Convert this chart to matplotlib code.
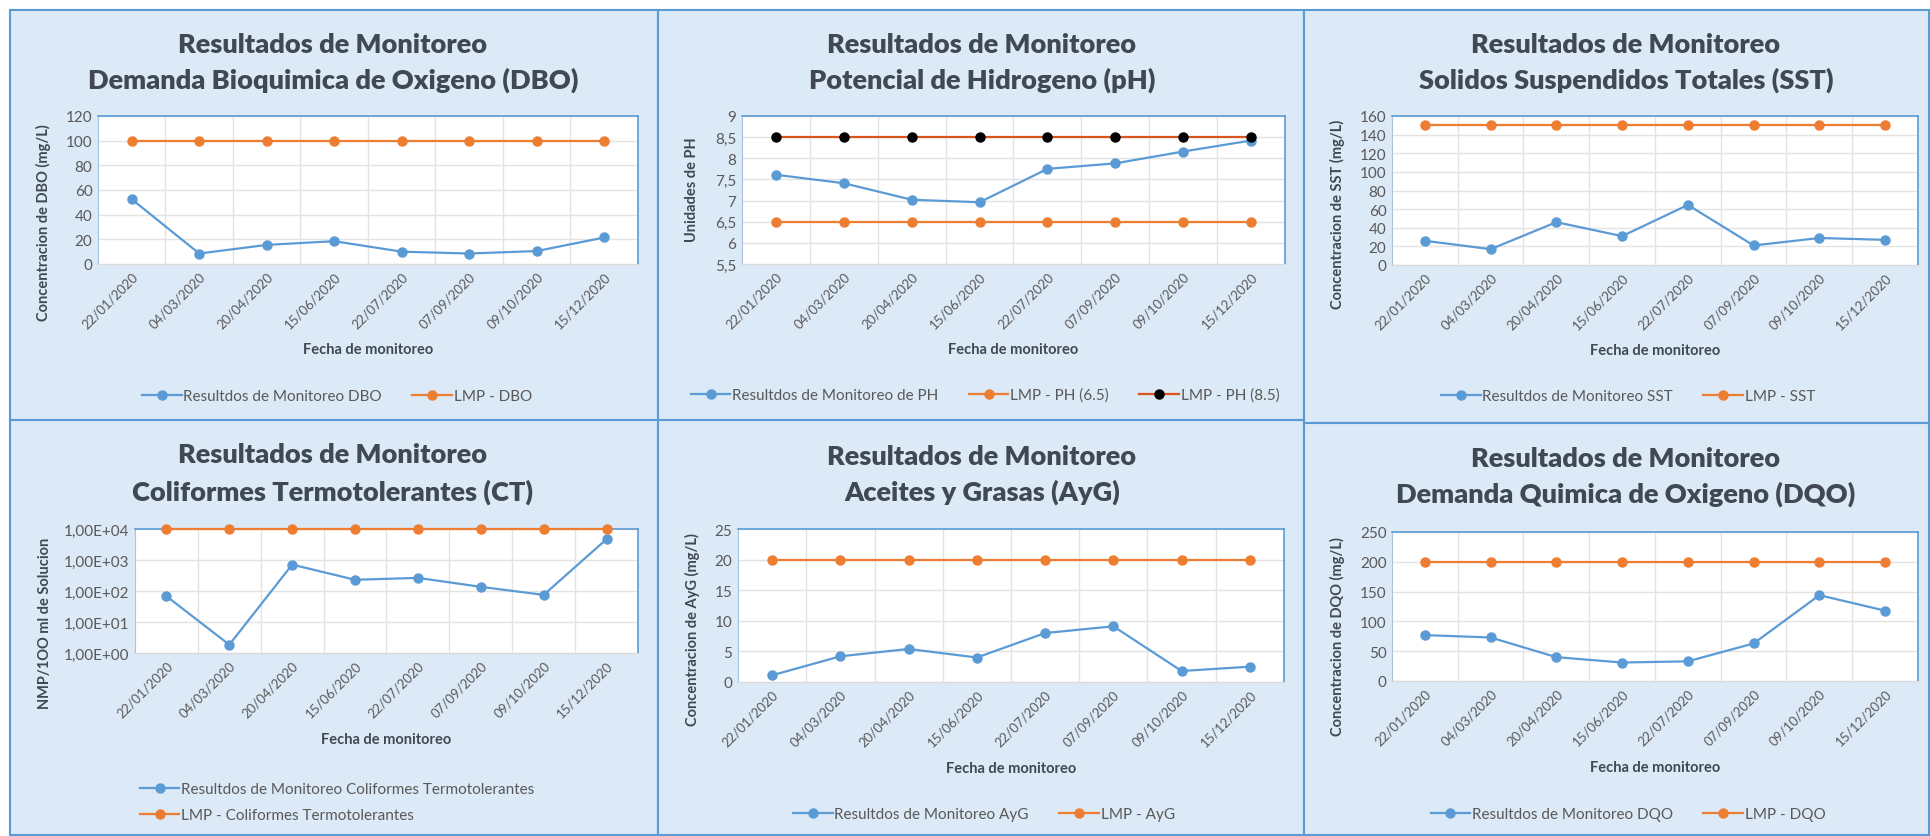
import numpy as np
import matplotlib.pyplot as plt
from matplotlib.patches import Rectangle
from matplotlib.ticker import FuncFormatter, FixedLocator

W, H = 1931, 837
plt.rcParams['font.family'] = ['Lato', 'DejaVu Sans']

# ---------------------------- data -------------------------------
fechas = ["22/01/2020", "04/03/2020", "20/04/2020", "15/06/2020",
          "22/07/2020", "07/09/2020", "09/10/2020", "15/12/2020"]

dbo = [52.5, 8.5, 15.5, 18.5, 10, 8.5, 10.5, 21.5]
lmp_dbo = [100] * 8

ph = [7.61, 7.41, 7.02, 6.96, 7.75, 7.88, 8.16, 8.42]
lmp_ph_min = [6.5] * 8
lmp_ph_max = [8.5] * 8

sst = [26, 17, 46, 31, 64.5, 21, 29, 27]
lmp_sst = [150] * 8

ct = [68, 1.85, 710, 230, 265, 136, 75, 4700]
lmp_ct = [10000] * 8

ayg = [1.1, 4.2, 5.4, 4.0, 8.0, 9.1, 1.8, 2.5]
lmp_ayg = [20] * 8

dqo = [77, 73, 40, 31, 33, 63, 144, 118]
lmp_dqo = [200] * 8

BLUE = '#5B9BD5'
ORANGE = '#ED7D31'
DARKOR = '#D9541E'
TXT = '#3F4854'
TICK = '#595959'
BG = '#DCE9F6'


def fx(x):
    return x / W


def fy(y):
    return 1 - y / H


def make_axes(fig, l, t, r, b):
    ax = fig.add_axes([fx(l), fy(b), fx(r - l), (b - t) / H])
    ax.set_facecolor('white')
    ax.set_xlim(-0.5, 7.5)
    ax.set_xticks(range(8))
    ax.set_xticklabels(fechas, rotation=45, ha='right', rotation_mode='anchor',
                       fontsize=9.5, color=TICK)
    ax.xaxis.set_minor_locator(FixedLocator(np.arange(0.5, 7.5, 1)))
    ax.grid(which='minor', axis='x', color='#E3E3E3', lw=1)
    ax.grid(which='major', axis='y', color='#E3E3E3', lw=1)
    ax.tick_params(which='both', length=0, pad=4)
    ax.tick_params(axis='y', labelsize=11, labelcolor=TICK)
    for s in ['top', 'right']:
        ax.spines[s].set_color(BLUE)
        ax.spines[s].set_linewidth(1.2)
    ax.spines['left'].set_color('#A9C4DE')
    ax.spines['bottom'].set_color('#D9D9D9')
    ax.set_axisbelow(True)
    return ax


def panel(fig, l, t, r, b):
    fig.patches.append(Rectangle((fx(l), fy(b)), fx(r - l), (b - t) / H,
                                 transform=fig.transFigure, facecolor=BG,
                                 edgecolor=BLUE, lw=1.5, zorder=-5))


def titles(fig, cx, y1, y2, l1, l2):
    fig.text(fx(cx), fy(y1), l1, ha='center', va='center', fontsize=19.5,
             fontweight='heavy', color=TXT)
    fig.text(fx(cx), fy(y2), l2, ha='center', va='center', fontsize=19.5,
             fontweight='heavy', color=TXT)


def series(ax, vals, color, mcolor=None, label=None):
    x = np.arange(len(vals))
    ax.plot(x, vals, color=color, lw=1.6, marker='o', ms=6.5,
            markerfacecolor=mcolor or color, markeredgecolor=mcolor or color,
            label=label, clip_on=False, zorder=3)


def labels(fig, ax, ylab, ylab_x, ylab_y, xlab_y):
    fig.text(fx(ylab_x), fy(ylab_y), ylab, rotation=90, ha='center', va='center',
             fontsize=10.5, fontweight='bold', color=TXT)
    pos = ax.get_position()
    fig.text(pos.x0 + pos.width / 2, fy(xlab_y), "Fecha de monitoreo",
             ha='center', va='center', fontsize=10.5, fontweight='bold', color=TXT)


def leg(fig, ax, cx, cy, ncol):
    lg = ax.legend(loc='center', bbox_to_anchor=(fx(cx), fy(cy)),
                   bbox_transform=fig.transFigure, ncol=ncol, frameon=False,
                   fontsize=11, handlelength=2.6, columnspacing=2.0,
                   handletextpad=0.1, labelspacing=0.8)
    for t in lg.get_texts():
        t.set_color(TICK)


fig = plt.figure(figsize=(W / 100, H / 100), dpi=100)

# panel frames
panel(fig, 10, 11, 658, 421)
panel(fig, 658, 11, 1304, 421)
panel(fig, 1304, 11, 1929, 424)
panel(fig, 10, 421, 658, 836)
panel(fig, 658, 421, 1304, 836)
panel(fig, 1304, 424, 1929, 836)

comma = FuncFormatter(lambda v, p: (f"{v:g}").replace('.', ','))

# ---------------- DBO -----------------------
ax = make_axes(fig, 98, 117, 638, 265)
series(ax, dbo, BLUE, label="Resultdos de Monitoreo DBO")
series(ax, lmp_dbo, ORANGE, label="LMP - DBO")
ax.set_ylim(0, 120)
ax.set_yticks(range(0, 121, 20))
titles(fig, 333, 45, 80, "Resultados de Monitoreo", "Demanda Bioquimica de Oxigeno (DBO)")
labels(fig, ax, "Concentracion de DBO (mg/L)", 43, 223, 350)
leg(fig, ax, 337, 397, 2)

# ---------------- pH -----------------------
ax = make_axes(fig, 742, 117, 1285, 265)
series(ax, ph, BLUE, label="Resultdos de Monitoreo de PH")
series(ax, lmp_ph_min, ORANGE, label="LMP - PH (6.5)")
series(ax, lmp_ph_max, DARKOR, mcolor='black', label="LMP - PH (8.5)")
ax.set_ylim(5.5, 9)
ax.set_yticks(np.arange(5.5, 9.01, 0.5))
ax.yaxis.set_major_formatter(comma)
titles(fig, 982, 45, 80, "Resultados de Monitoreo", "Potencial de Hidrogeno (pH)")
labels(fig, ax, "Unidades de PH", 692, 190, 350)
leg(fig, ax, 985, 396, 3)

# ---------------- SST -----------------------
ax = make_axes(fig, 1392, 117, 1918, 266)
series(ax, sst, BLUE, label="Resultdos de Monitoreo SST")
series(ax, lmp_sst, ORANGE, label="LMP - SST")
ax.set_ylim(0, 160)
ax.set_yticks(range(0, 161, 20))
titles(fig, 1626, 45, 80, "Resultados de Monitoreo", "Solidos Suspendidos Totales (SST)")
labels(fig, ax, "Concentracion de SST (mg/L)", 1337, 214, 351)
leg(fig, ax, 1628, 397, 2)

# ---------------- CT -----------------------
ax = make_axes(fig, 135, 530, 638, 654)
series(ax, ct, BLUE, label="Resultdos de Monitoreo Coliformes Termotolerantes")
series(ax, lmp_ct, ORANGE, label="LMP - Coliformes Termotolerantes")
ax.set_yscale('log')
ax.set_ylim(1, 10000)
ax.set_yticks([1, 10, 100, 1000, 10000])
ax.yaxis.set_minor_locator(FixedLocator([]))
ax.yaxis.set_major_formatter(FuncFormatter(lambda v, p: "1,00E+%02d" % int(round(np.log10(v)))))
titles(fig, 333, 455, 492, "Resultados de Monitoreo", "Coliformes Termotolerantes (CT)")
labels(fig, ax, "NMP/1OO ml de Solucion", 45, 623, 740)
leg(fig, ax, 337, 803, 1)

# ---------------- AyG -----------------------
ax = make_axes(fig, 738, 530, 1284, 683)
series(ax, ayg, BLUE, label="Resultdos de Monitoreo AyG")
series(ax, lmp_ayg, ORANGE, label="LMP - AyG")
ax.set_ylim(0, 25)
ax.set_yticks(range(0, 26, 5))
titles(fig, 982, 457, 492, "Resultados de Monitoreo", "Aceites y Grasas (AyG)")
labels(fig, ax, "Concentracion de AyG (mg/L)", 692, 630, 769)
leg(fig, ax, 984, 815, 2)

# ---------------- DQO -----------------------
ax = make_axes(fig, 1392, 533, 1918, 682)
series(ax, dqo, BLUE, label="Resultdos de Monitoreo DQO")
series(ax, lmp_dqo, ORANGE, label="LMP - DQO")
ax.set_ylim(0, 250)
ax.set_yticks(range(0, 251, 50))
titles(fig, 1626, 459, 494, "Resultados de Monitoreo", "Demanda Quimica de Oxigeno (DQO)")
labels(fig, ax, "Concentracion de DQO (mg/L)", 1337, 637, 768)
leg(fig, ax, 1628, 815, 2)

fig.savefig("out.png", dpi=100, facecolor='white')
